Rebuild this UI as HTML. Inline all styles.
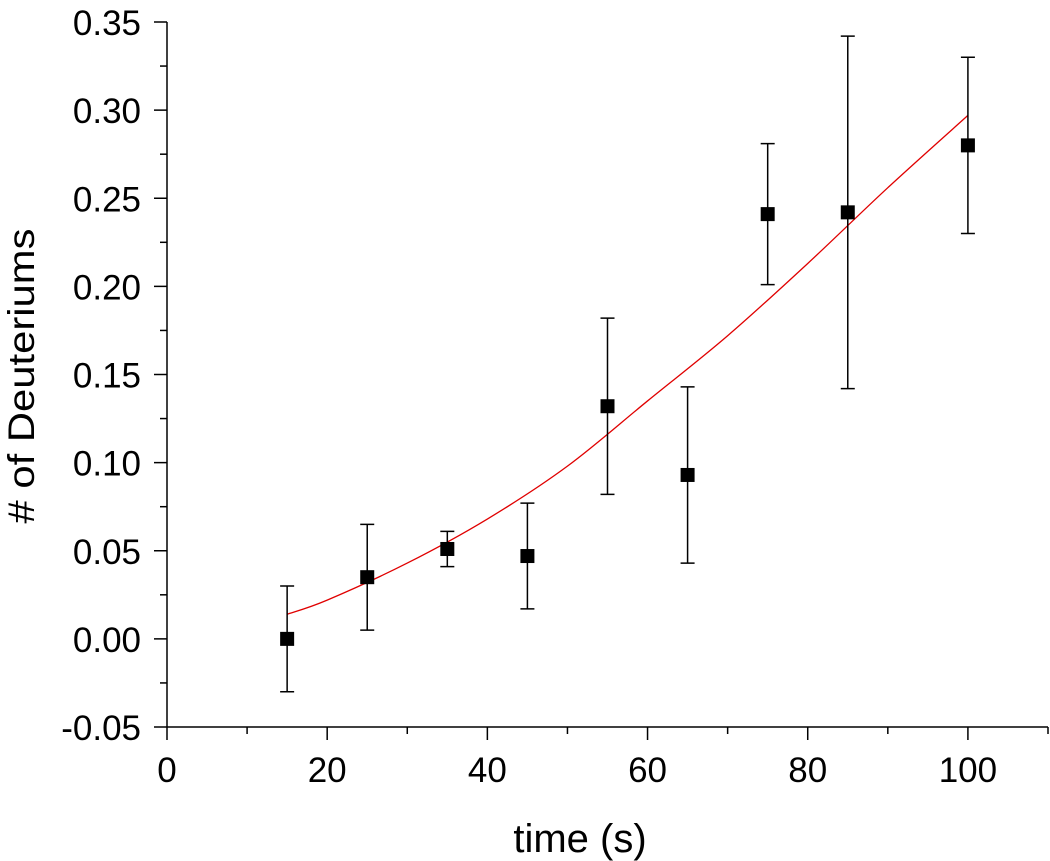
<!DOCTYPE html>
<html><head><meta charset="utf-8"><style>
html,body{margin:0;padding:0;background:#fff;}
svg{display:block;font-family:"Liberation Sans",Arial,sans-serif;}
</style></head><body>
<svg id="chart" width="1050" height="861" viewBox="0 0 1050 861" xmlns="http://www.w3.org/2000/svg">
<g id="axes"></g>
<g id="fit"></g>
<g id="points"></g>
<text x="580" y="852" font-size="40" text-anchor="middle">time (s)</text>
<text transform="translate(34,376) rotate(-90)" font-size="37" text-anchor="middle" textLength="295" lengthAdjust="spacingAndGlyphs"># of Deuteriums</text>
</svg>
<script>
const xTicks = [0,20,40,60,80,100];
const yTicks = [-0.05,0,0.05,0.10,0.15,0.20,0.25,0.30,0.35];
const yTickLabels = ["-0.05","0.00","0.05","0.10","0.15","0.20","0.25","0.30","0.35"];
const times = [15,25,35,45,55,65,75,85,100];
const deuteriums = [0.000,0.035,0.051,0.047,0.132,0.093,0.241,0.242,0.280];
const errors = [0.030,0.030,0.010,0.030,0.050,0.050,0.040,0.100,0.050];
const fitX = [15,20,30,40,50,60,70,80,90,100];
const fitY = [0.014,0.022,0.043,0.068,0.098,0.135,0.172,0.213,0.256,0.297];

const NS="http://www.w3.org/2000/svg";
const X0=167,X1=1048,XMIN=0,XMAX=110;
const Y0=727,Y1=22,YMIN=-0.05,YMAX=0.35;
const sx=v=>X0+(v-XMIN)/(XMAX-XMIN)*(X1-X0);
const sy=v=>Y0-(v-YMIN)/(YMAX-YMIN)*(Y0-Y1);
function mk(tag,attrs,parent){const e=document.createElementNS(NS,tag);for(const k in attrs)e.setAttribute(k,attrs[k]);parent.appendChild(e);return e;}
const axes=document.getElementById('axes');
let e;
e=mk('line',{x1:X0,y1:Y0,x2:X1,y2:Y0,stroke:'#000','stroke-width':1.5},axes);


e=mk('line',{x1:X0,y1:Y0,x2:X0,y2:Y1,stroke:'#000','stroke-width':1.5},axes);


for(let v=0;v<=110;v+=10){
  const major=v%20===0;
  e=mk('line',{x1:sx(v),y1:Y0,x2:sx(v),y2:Y0+(major?13:7),stroke:'#000','stroke-width':1.5},axes);
  
  
}
xTicks.forEach(v=>{
  e=mk('text',{x:sx(v),y:Y0+55,'font-size':35,'text-anchor':'middle'},axes);
  e.textContent=String(v);
  
  
});
for(let i=0;i<yTicks.length;i++){
  const v=yTicks[i];
  e=mk('line',{x1:X0-13,y1:sy(v),x2:X0,y2:sy(v),stroke:'#000','stroke-width':1.5},axes);
  
  
  if(i<yTicks.length-1){
    const m=(v+yTicks[i+1])/2;
    e=mk('line',{x1:X0-7,y1:sy(m),x2:X0,y2:sy(m),stroke:'#000','stroke-width':1.5},axes);
    
    
  }
  e=mk('text',{x:X0-26,y:sy(v)+13,'font-size':35,'text-anchor':'end'},axes);
  e.textContent=yTickLabels[i];
  
  
}
const fit=document.getElementById('fit');
const P=fitX.map((x,i)=>[sx(x),sy(fitY[i])]);
let d=`M${P[0][0]},${P[0][1]}`;
for(let i=0;i<P.length-1;i++){
  const p0=P[Math.max(i-1,0)],p1=P[i],p2=P[i+1],p3=P[Math.min(i+2,P.length-1)];
  const c1=[p1[0]+(p2[0]-p0[0])/6,p1[1]+(p2[1]-p0[1])/6];
  const c2=[p2[0]-(p3[0]-p1[0])/6,p2[1]-(p3[1]-p1[1])/6];
  d+=` C${c1[0]},${c1[1]} ${c2[0]},${c2[1]} ${p2[0]},${p2[1]}`;
}
e=mk('path',{d:d,fill:'none',stroke:'#e00000','stroke-width':1.3},fit);


const pts=document.getElementById('points');
times.forEach((t,i)=>{
  const x=sx(t),yt=sy(deuteriums[i]+errors[i]),yb=sy(deuteriums[i]-errors[i]);
  e=mk('path',{d:`M${x},${yt}V${yb}M${x-7},${yt}H${x+7}M${x-7},${yb}H${x+7}`,stroke:'#000','stroke-width':1.5,fill:'none'},pts);
  
  
  e=mk('rect',{x:x-7,y:sy(deuteriums[i])-7,width:14,height:14,fill:'#000'},pts);
  
  
});
</script>
</body></html>
